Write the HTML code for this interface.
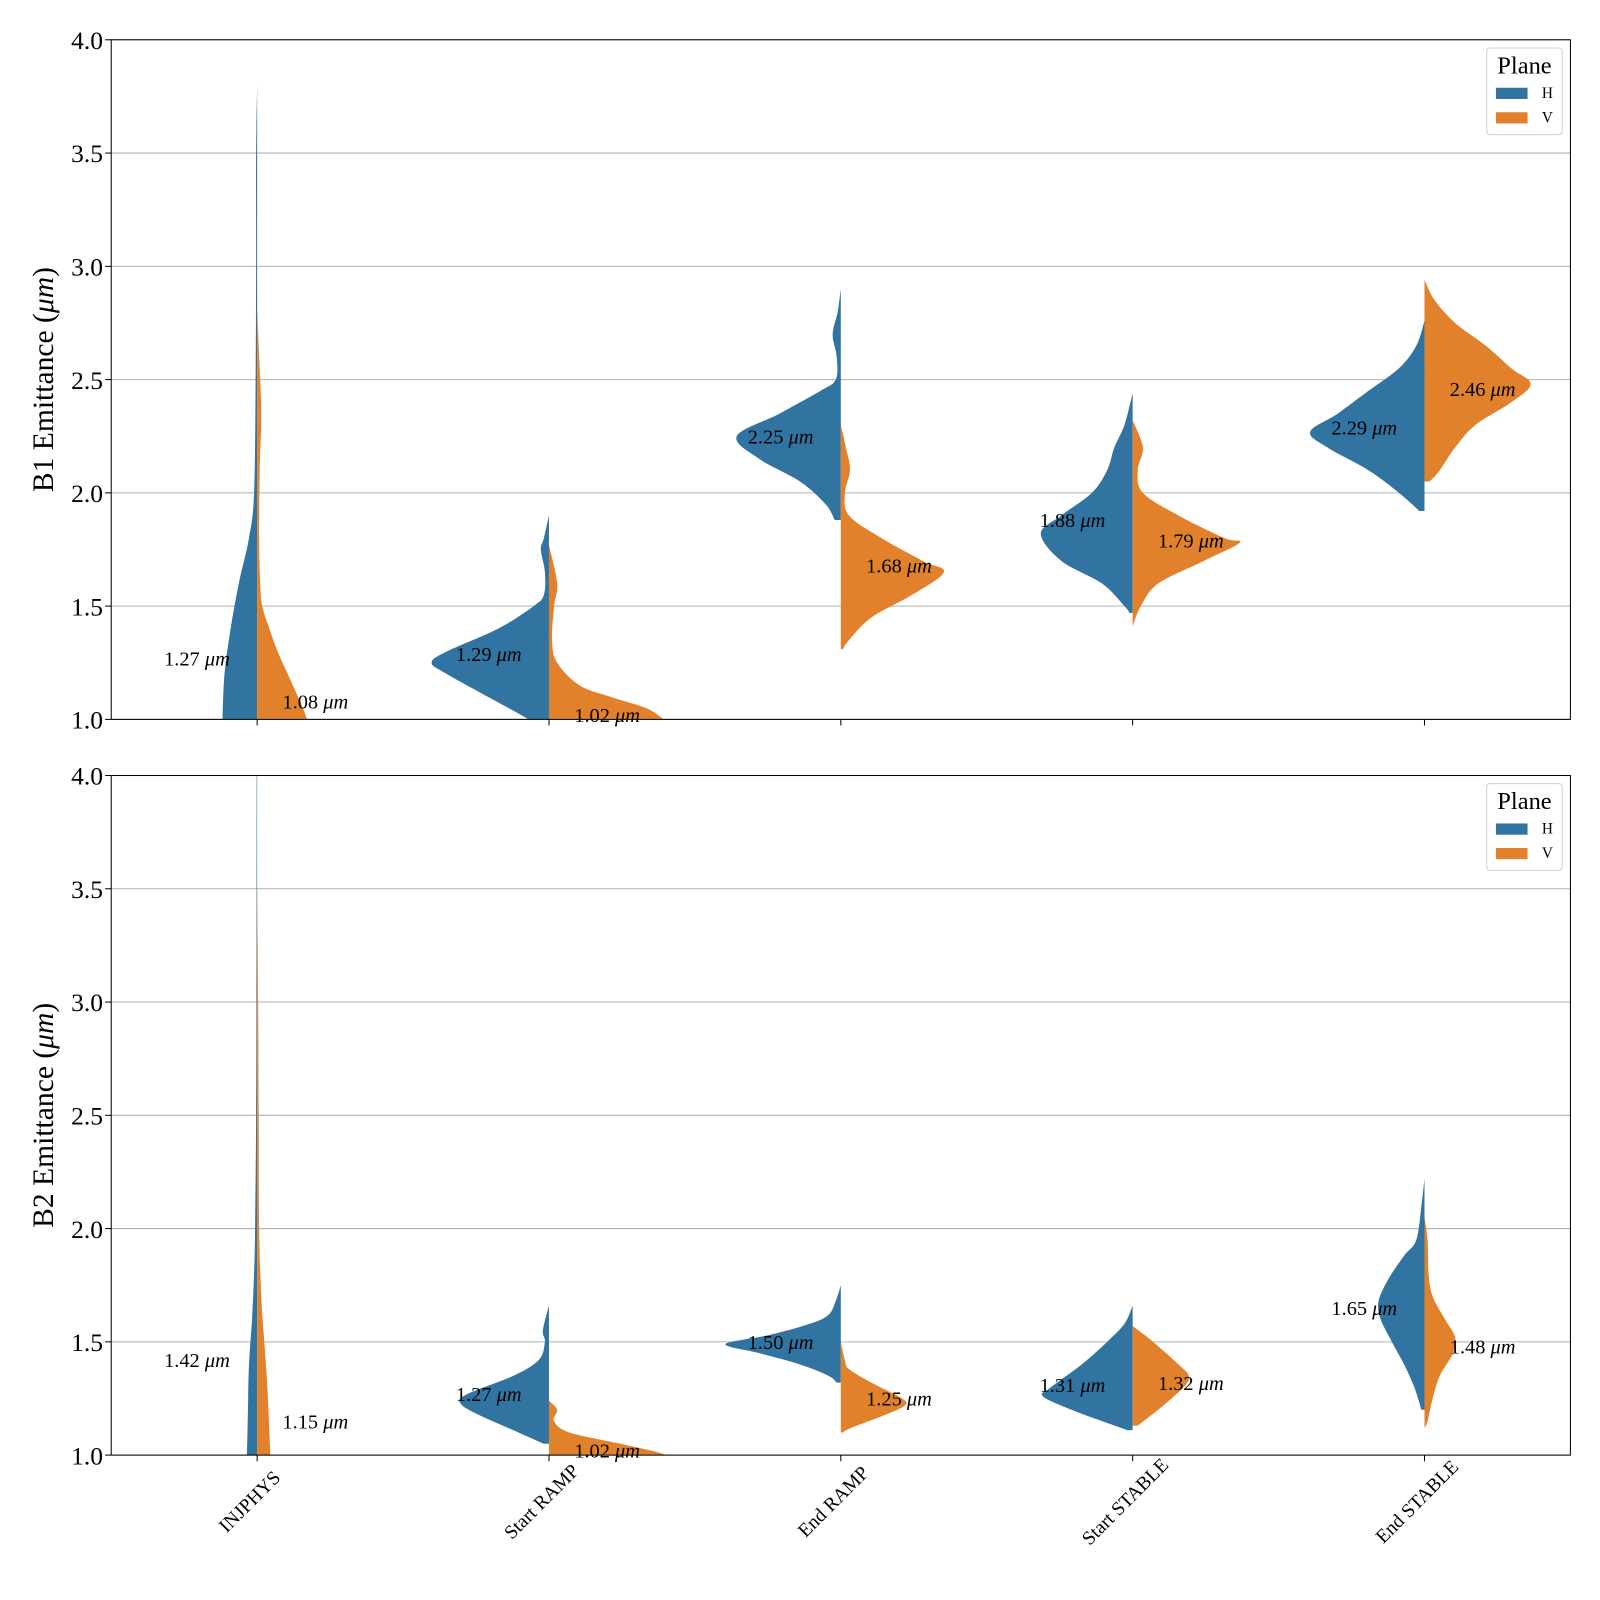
<!DOCTYPE html>
<html><head><meta charset="utf-8"><style>
html,body{margin:0;padding:0;background:#fff}
svg{display:block}
text{font-family:"Liberation Serif","DejaVu Serif",serif;fill:#000}
</style></head><body>
<svg id="chart" xmlns="http://www.w3.org/2000/svg" width="1600" height="1600" viewBox="0 0 1568 1568">
<defs>
<clipPath id="clip0"><rect x="109" y="39" width="1430" height="666"/></clipPath>
<clipPath id="clip1"><rect x="109" y="760" width="1430" height="666"/></clipPath>
</defs>
<g id="root"></g>
</svg>
<script>
const categories = ["INJPHYS","Start RAMP","End RAMP","Start STABLE","End STABLE"];
const yTicks = [1.0,1.5,2.0,2.5,3.0,3.5,4.0];
const panelLabels = ["B1 Emittance (", "B2 Emittance ("];
const mediansB1 = [[1.27,1.08],[1.29,1.02],[2.25,1.68],[1.88,1.79],[2.29,2.46]];
const mediansB2 = [[1.42,1.15],[1.27,1.02],[1.50,1.25],[1.31,1.32],[1.65,1.48]];
const b1H = [
 [[3.8,0],[3.5,1],[3.0,1],[2.5,1.5],[2.0,3],[1.8,8],[1.6,18],[1.4,26],[1.2,32],[1.0,34],[0.9,35]],
 [[1.9,0],[1.8,5],[1.75,8],[1.65,4],[1.55,5],[1.5,15],[1.4,50],[1.3,100],[1.25,115],[1.2,100],[1.1,60],[1.0,20],[0.95,8]],
 [[2.9,0],[2.8,3],[2.7,8],[2.6,4],[2.5,5],[2.45,20],[2.35,60],[2.25,102],[2.15,80],[2.05,40],[1.95,15],[1.88,6]],
 [[2.44,0],[2.3,8],[2.2,18],[2.1,25],[2.0,40],[1.9,70],[1.82,90],[1.7,70],[1.6,30],[1.5,8],[1.47,3]],
 [[2.76,0],[2.65,8],[2.55,25],[2.45,55],[2.35,85],[2.27,112],[2.2,95],[2.1,55],[2.0,25],[1.92,5]]
];
const b1V = [
 [[2.82,0],[2.6,2],[2.35,4],[2.1,2.5],[1.8,2],[1.6,3],[1.5,5],[1.4,12],[1.3,20],[1.2,30],[1.1,40],[1.0,49],[0.9,55]],
 [[1.77,0],[1.6,8],[1.5,5],[1.35,3],[1.25,8],[1.15,30],[1.1,60],[1.05,95],[1.0,112],[0.95,120]],
 [[2.3,0],[2.2,5],[2.1,9],[2.0,4],[1.9,8],[1.8,40],[1.7,80],[1.65,101],[1.55,70],[1.45,30],[1.35,8],[1.31,2]],
 [[2.32,0],[2.2,10],[2.1,5],[2.0,10],[1.9,45],[1.8,90],[1.78,105],[1.7,70],[1.6,25],[1.5,8],[1.41,0]],
 [[2.94,0],[2.85,10],[2.75,30],[2.65,60],[2.55,85],[2.48,104],[2.4,85],[2.3,50],[2.2,30],[2.1,15],[2.05,5]]
];
const b2H = [
 [[4.1,0.5],[3.0,0.7],[2.5,1],[2.0,2],[1.8,3],[1.6,5],[1.4,8],[1.2,9],[1.0,10],[0.9,11]],
 [[1.66,0],[1.55,6],[1.5,4],[1.42,10],[1.35,35],[1.27,80],[1.23,87],[1.18,70],[1.1,30],[1.05,5]],
 [[1.75,0],[1.68,5],[1.62,12],[1.58,30],[1.53,70],[1.49,113],[1.45,80],[1.4,40],[1.35,12],[1.32,4]],
 [[1.66,0],[1.58,8],[1.5,25],[1.4,50],[1.3,80],[1.26,88],[1.2,60],[1.15,30],[1.11,5]],
 [[2.22,0],[2.1,3],[1.95,8],[1.88,20],[1.78,35],[1.68,45],[1.6,43],[1.5,32],[1.4,20],[1.3,10],[1.2,3]]
];
const b2V = [
 [[3.55,0],[3.0,1],[2.5,1.5],[2.0,2],[1.7,4],[1.5,7],[1.3,10],[1.1,12],[1.0,13],[0.9,14]],
 [[1.24,0],[1.2,8],[1.15,5],[1.1,20],[1.05,70],[1.02,100],[1.0,115],[0.98,120]],
 [[1.5,0],[1.42,4],[1.38,8],[1.32,30],[1.25,60],[1.22,63],[1.18,45],[1.12,10],[1.1,2]],
 [[1.57,0],[1.5,20],[1.4,45],[1.35,55],[1.3,50],[1.2,25],[1.13,5]],
 [[2.05,0],[1.95,3],[1.8,4],[1.7,8],[1.6,20],[1.52,30],[1.45,28],[1.35,15],[1.25,8],[1.15,3],[1.12,0]]
];

const NS="http://www.w3.org/2000/svg";
const root=document.getElementById('root');
const X0=109,X1=1539,BLUE="#3274a1",ORANGE="#e1812c";
const panels=[{top:39,H:b1H,V:b1V,med:mediansB1,label:panelLabels[0]},{top:760,H:b2H,V:b2V,med:mediansB2,label:panelLabels[1]}];
function el(tag,attrs,parent){const e=document.createElementNS(NS,tag);for(const k in attrs)e.setAttribute(k,attrs[k]);(parent||root).appendChild(e);return e;}
function xScale(i){return X0+(X1-X0)*(i+0.5)/categories.length;}
function densW(d){return d;}
function smoothPath(pts){
  let d="M"+pts[0][0]+","+pts[0][1];
  for(let i=0;i<pts.length-1;i++){
    const p0=pts[Math.max(0,i-1)],p1=pts[i],p2=pts[i+1],p3=pts[Math.min(pts.length-1,i+2)];
    const c1=[p1[0]+(p2[0]-p0[0])/6,p1[1]+(p2[1]-p0[1])/6];
    const c2=[p2[0]-(p3[0]-p1[0])/6,p2[1]-(p3[1]-p1[1])/6];
    d+=" C"+c1[0].toFixed(1)+","+c1[1].toFixed(1)+" "+c2[0].toFixed(1)+","+c2[1].toFixed(1)+" "+p2[0].toFixed(1)+","+p2[1].toFixed(1);
  }
  return d;
}
panels.forEach((p,pi)=>{
  const yS=v=>p.top+(4-v)*222;
  const g=el('g',{});
  
  
  yTicks.forEach(t=>{
    const gl=el('line',{x1:X0,x2:X1,y1:yS(t),y2:yS(t),stroke:"#b0b0b0","stroke-width":1},g);
    
    
    const tk=el('line',{x1:X0-6,x2:X0,y1:yS(t),y2:yS(t),stroke:"#000","stroke-width":1},g);
    
    
    const tl=el('text',{x:X0-8,y:yS(t)+9,"text-anchor":"end","font-size":25},g);
    tl.textContent=t.toFixed(1);
    
    
  });
  const vg=el('g',{"clip-path":"url(#clip"+pi+")"},g);
  categories.forEach((c,i)=>{
    const cx=xScale(i);
    [["H",p.H[i],-1,BLUE],["V",p.V[i],1,ORANGE]].forEach(([nm,prof,sgn,col])=>{
      const pts=[[cx,yS(prof[0][0])]];
      prof.forEach(q=>pts.push([cx+sgn*densW(q[1]),yS(q[0])]));
      pts.push([cx,yS(prof[prof.length-1][0])]);
      const inner=pts.slice(1,pts.length-1);
      let d=smoothPath(inner);
      d="M"+cx+","+pts[0][1]+" L"+d.slice(1)+" L"+cx+","+pts[pts.length-1][1]+" Z";
      const path=el('path',{d:d,fill:col},vg);
      
      
    });
    const m=p.med[i];
    [[m[0],-59],[m[1],57]].forEach(([v,off],k)=>{
      const t=el('text',{x:cx+off,y:yS(v)+7,"text-anchor":"middle","font-size":20},g);
      t.innerHTML=v.toFixed(2)+' <tspan font-style="italic">μm</tspan>';
      
      
    });
    const xt=el('line',{x1:cx,x2:cx,y1:p.top+666,y2:p.top+672,stroke:"#000","stroke-width":1},g);
    
    
  });
  const fr=el('rect',{x:X0,y:p.top,width:X1-X0,height:666,fill:"none",stroke:"#000","stroke-width":1},g);
  
  
  const yl=el('text',{transform:"translate(52,"+(p.top+333)+") rotate(-90)","text-anchor":"middle","font-size":29},g);
  yl.innerHTML=p.label+'<tspan font-style="italic">μm</tspan>)';
  
  
  const lg=el('g',{},g);
  
  
  el('rect',{x:1457,y:p.top+8,width:74,height:85,rx:3,fill:"#fff",stroke:"#d0d0d0","stroke-width":1},lg);
  const lt=el('text',{x:1494,y:p.top+33,"text-anchor":"middle","font-size":24},lg);
  lt.textContent="Plane";
  
  
  [["H",BLUE],["V",ORANGE]].forEach(([n,col],k)=>{
    const r=el('rect',{x:1466,y:p.top+47+k*24,width:31,height:11,fill:col},lg);
    
    
    const t=el('text',{x:1511,y:p.top+57+k*24,"font-size":15},lg);
    t.textContent=n;
    
    
  });
});
categories.forEach((c,i)=>{
  const cx=xScale(i)-3, cy=1476;
  const t=el('text',{x:cx,y:cy,"text-anchor":"middle","font-size":19,transform:"rotate(-45 "+cx+" "+cy+")"});
  t.textContent=c;
  
  
});
</script>
</body></html>
